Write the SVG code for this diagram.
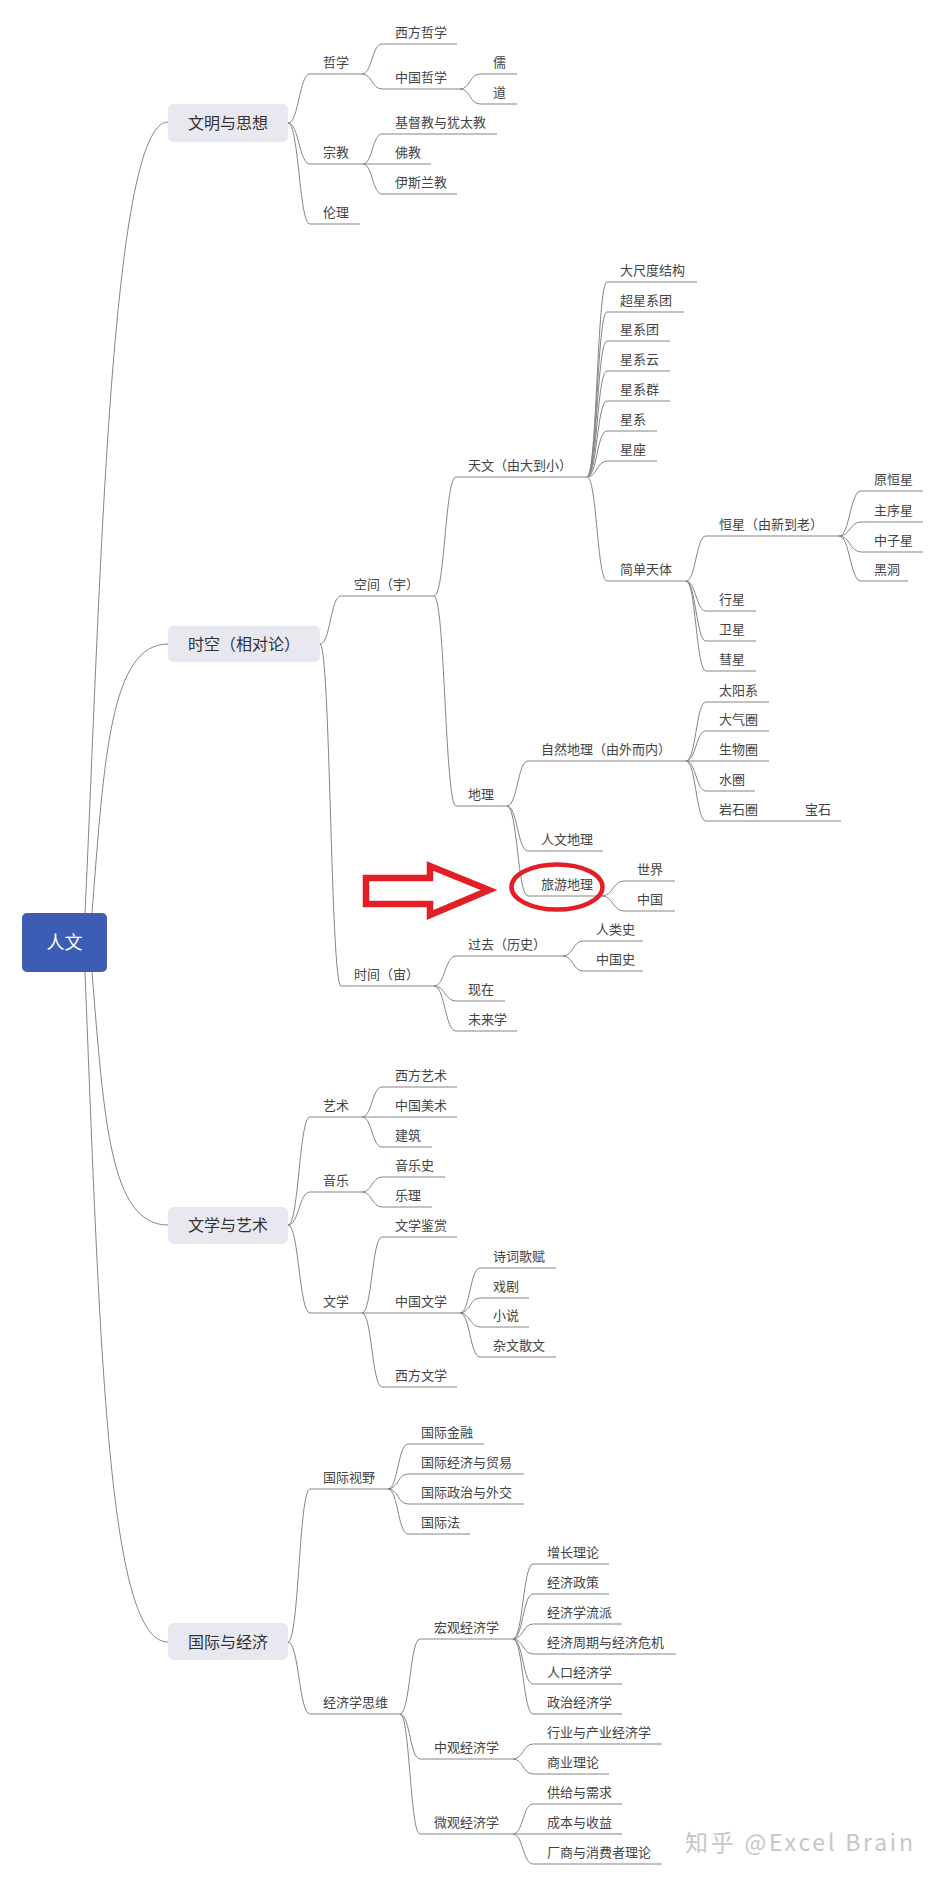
<svg xmlns="http://www.w3.org/2000/svg" width="939" height="1885" viewBox="0 0 939 1885">
<style>
.t{font-family:"Noto Sans CJK SC","Noto Sans",sans-serif;font-size:13px;fill:#444}
.u,.c path{stroke:#858585;stroke-width:1;fill:none}
.b1{fill:#e8e8f1}
.tb{font-family:"Noto Sans CJK SC","Noto Sans",sans-serif;font-size:16px;fill:#333;text-anchor:middle}
.tr{font-family:"Noto Sans CJK SC","Noto Sans",sans-serif;font-size:18px;fill:#fff;text-anchor:middle}
.red{stroke:#e21f26;fill:none}
</style>
<rect width="939" height="1885" fill="#fff"/>
<g class="c" id="connectors">
<path d="M85,913 C100,600 110,122 168,122"/>
<path d="M92,913 C104,760 110,644 168,644"/>
<path d="M92,972 C104,1120 110,1225 168,1225"/>
<path d="M85,972 C100,1350 108,1642 168,1642"/>
<path d="M288,123 C299,123 299,74 310,74"/>
<path d="M288,123 C299,123 299,164 310,164"/>
<path d="M288,123 C299,123 299,224 310,224"/>
<path d="M362,74 C372,74 372,44 382,44"/>
<path d="M362,74 C372,74 372,89 382,89"/>
<path d="M460,89 C470,89 470,74 480,74"/>
<path d="M460,89 C470,89 470,104 480,104"/>
<path d="M363,164 C372.5,164 372.5,134 382,134"/>
<path d="M363,164 L382,164"/>
<path d="M363,164 C372.5,164 372.5,194 382,194"/>
<path d="M320,644 C330.5,644 330.5,596 341,596"/>
<path d="M320,644 C330.5,644 330.5,986 341,986"/>
<path d="M434,596 C445,596 445,477 456,477"/>
<path d="M434,596 C445,596 445,806 456,806"/>
<path d="M587,477 C597,477 597,282 607,282"/>
<path d="M587,477 C597,477 597,312 607,312"/>
<path d="M587,477 C597,477 597,341 607,341"/>
<path d="M587,477 C597,477 597,371 607,371"/>
<path d="M587,477 C597,477 597,401 607,401"/>
<path d="M587,477 C597,477 597,431 607,431"/>
<path d="M587,477 C597,477 597,461 607,461"/>
<path d="M587,477 C597,477 597,581 607,581"/>
<path d="M686,581 C696,581 696,536 706,536"/>
<path d="M686,581 C696,581 696,611 706,611"/>
<path d="M686,581 C696,581 696,641 706,641"/>
<path d="M686,581 C696,581 696,671 706,671"/>
<path d="M839,536 C850,536 850,491 861,491"/>
<path d="M839,536 C850,536 850,522 861,522"/>
<path d="M839,536 C850,536 850,552 861,552"/>
<path d="M839,536 C850,536 850,581 861,581"/>
<path d="M507,806 C517.5,806 517.5,761 528,761"/>
<path d="M507,806 C517.5,806 517.5,851 528,851"/>
<path d="M507,806 C517.5,806 517.5,896 528,896"/>
<path d="M686,761 C696,761 696,702 706,702"/>
<path d="M686,761 C696,761 696,731 706,731"/>
<path d="M686,761 L706,761"/>
<path d="M686,761 C696,761 696,791 706,791"/>
<path d="M686,761 C696,761 696,821 706,821"/>
<path d="M602,896 C613,896 613,881 624,881"/>
<path d="M602,896 C613,896 613,911 624,911"/>
<path d="M434,986 C445,986 445,956 456,956"/>
<path d="M434,986 C445,986 445,1001 456,1001"/>
<path d="M434,986 C445,986 445,1031 456,1031"/>
<path d="M563,956 C573,956 573,941 583,941"/>
<path d="M563,956 C573,956 573,971 583,971"/>
<path d="M288,1225 C299,1225 299,1117 310,1117"/>
<path d="M288,1225 C299,1225 299,1192 310,1192"/>
<path d="M288,1225 C299,1225 299,1313 310,1313"/>
<path d="M362,1117 C372,1117 372,1087 382,1087"/>
<path d="M362,1117 L382,1117"/>
<path d="M362,1117 C372,1117 372,1147 382,1147"/>
<path d="M362,1192 C372,1192 372,1177 382,1177"/>
<path d="M362,1192 C372,1192 372,1207 382,1207"/>
<path d="M362,1313 C372,1313 372,1237 382,1237"/>
<path d="M362,1313 L382,1313"/>
<path d="M362,1313 C372,1313 372,1387 382,1387"/>
<path d="M460,1313 C470,1313 470,1268 480,1268"/>
<path d="M460,1313 C470,1313 470,1298 480,1298"/>
<path d="M460,1313 C470,1313 470,1327 480,1327"/>
<path d="M460,1313 C470,1313 470,1357 480,1357"/>
<path d="M288,1642 C299,1642 299,1489 310,1489"/>
<path d="M288,1642 C299,1642 299,1714 310,1714"/>
<path d="M388,1489 C398,1489 398,1444 408,1444"/>
<path d="M388,1489 C398,1489 398,1474 408,1474"/>
<path d="M388,1489 C398,1489 398,1504 408,1504"/>
<path d="M388,1489 C398,1489 398,1534 408,1534"/>
<path d="M400,1714 C410,1714 410,1639 420,1639"/>
<path d="M400,1714 C410,1714 410,1759 420,1759"/>
<path d="M400,1714 C410,1714 410,1834 420,1834"/>
<path d="M513,1639 C523,1639 523,1564 533,1564"/>
<path d="M513,1639 C523,1639 523,1594 533,1594"/>
<path d="M513,1639 C523,1639 523,1624 533,1624"/>
<path d="M513,1639 C523,1639 523,1654 533,1654"/>
<path d="M513,1639 C523,1639 523,1684 533,1684"/>
<path d="M513,1639 C523,1639 523,1714 533,1714"/>
<path d="M513,1759 C523,1759 523,1744 533,1744"/>
<path d="M513,1759 C523,1759 523,1774 533,1774"/>
<path d="M513,1834 C523,1834 523,1804 533,1804"/>
<path d="M513,1834 L533,1834"/>
<path d="M513,1834 C523,1834 523,1864 533,1864"/>
</g>

<g id="n-root"><rect x="22" y="913" width="85" height="59" rx="5" fill="#3d5cb5"/><text class="tr" x="64.5" y="949">人文</text></g>
<g id="n-wenming"><rect class="b1" x="168" y="104" width="120" height="38" rx="5"/><text class="tb" x="228" y="128.5">文明与思想</text></g>
<g id="n-shikong"><rect class="b1" x="168" y="626" width="152" height="36" rx="5"/><text class="tb" x="244" y="649.5">时空（相对论）</text></g>
<g id="n-wenxueyishu"><rect class="b1" x="168" y="1207" width="120" height="37" rx="5"/><text class="tb" x="228" y="1231">文学与艺术</text></g>
<g id="n-guojijingji"><rect class="b1" x="168" y="1623" width="120" height="37" rx="5"/><text class="tb" x="228" y="1647.5">国际与经济</text></g>

<g id="n-zhexue"><path class="u" d="M310,74H362"/><text class="t" x="323" y="67">哲学</text></g>
<g id="n-xifangzhexue"><path class="u" d="M382,44H457"/><text class="t" x="395" y="37">西方哲学</text></g>
<g id="n-zhongguozhexue"><path class="u" d="M382,89H460"/><text class="t" x="395" y="82">中国哲学</text></g>
<g id="n-ru"><path class="u" d="M480,74H517"/><text class="t" x="493" y="67">儒</text></g>
<g id="n-dao"><path class="u" d="M480,104H517"/><text class="t" x="493" y="97">道</text></g>
<g id="n-zongjiao"><path class="u" d="M310,164H363"/><text class="t" x="323" y="157">宗教</text></g>
<g id="n-jidujiao"><path class="u" d="M382,134H497"/><text class="t" x="395" y="127">基督教与犹太教</text></g>
<g id="n-fojiao"><path class="u" d="M382,164H431"/><text class="t" x="395" y="157">佛教</text></g>
<g id="n-yisilanjiao"><path class="u" d="M382,194H457"/><text class="t" x="395" y="187">伊斯兰教</text></g>
<g id="n-lunli"><path class="u" d="M310,224H360"/><text class="t" x="323" y="217">伦理</text></g>

<g id="n-kongjian"><path class="u" d="M341,596H434"/><text class="t" x="354" y="589">空间（宇）</text></g>
<g id="n-tianwen"><path class="u" d="M456,477H587"/><text class="t" x="468" y="470">天文（由大到小）</text></g>
<g id="n-dachidu"><path class="u" d="M607,282H697"/><text class="t" x="620" y="275">大尺度结构</text></g>
<g id="n-chaoxingxituan"><path class="u" d="M607,312H684"/><text class="t" x="620" y="305">超星系团</text></g>
<g id="n-xingxituan"><path class="u" d="M607,341H670"/><text class="t" x="620" y="334">星系团</text></g>
<g id="n-xingxiyun"><path class="u" d="M607,371H670"/><text class="t" x="620" y="364">星系云</text></g>
<g id="n-xingxiqun"><path class="u" d="M607,401H670"/><text class="t" x="620" y="394">星系群</text></g>
<g id="n-xingxi"><path class="u" d="M607,431H657"/><text class="t" x="620" y="424">星系</text></g>
<g id="n-xingzuo"><path class="u" d="M607,461H657"/><text class="t" x="620" y="454">星座</text></g>
<g id="n-jiandantianti"><path class="u" d="M607,581H686"/><text class="t" x="620" y="574">简单天体</text></g>
<g id="n-hengxing"><path class="u" d="M706,536H839"/><text class="t" x="719" y="529">恒星（由新到老）</text></g>
<g id="n-yuanhengxing"><path class="u" d="M861,491H923"/><text class="t" x="874" y="484">原恒星</text></g>
<g id="n-zhuxuxing"><path class="u" d="M861,522H923"/><text class="t" x="874" y="515">主序星</text></g>
<g id="n-zhongzixing"><path class="u" d="M861,552H923"/><text class="t" x="874" y="545">中子星</text></g>
<g id="n-heidong"><path class="u" d="M861,581H908"/><text class="t" x="874" y="574">黑洞</text></g>
<g id="n-xingxing"><path class="u" d="M706,611H756"/><text class="t" x="719" y="604">行星</text></g>
<g id="n-weixing"><path class="u" d="M706,641H756"/><text class="t" x="719" y="634">卫星</text></g>
<g id="n-huixing"><path class="u" d="M706,671H756"/><text class="t" x="719" y="664">彗星</text></g>
<g id="n-dili"><path class="u" d="M456,806H507"/><text class="t" x="468" y="799">地理</text></g>
<g id="n-ziran"><path class="u" d="M528,761H686"/><text class="t" x="541" y="754">自然地理（由外而内）</text></g>
<g id="n-taiyangxi"><path class="u" d="M706,702H769"/><text class="t" x="719" y="695">太阳系</text></g>
<g id="n-daqiquan"><path class="u" d="M706,731H769"/><text class="t" x="719" y="724">大气圈</text></g>
<g id="n-shengwuquan"><path class="u" d="M706,761H769"/><text class="t" x="719" y="754">生物圈</text></g>
<g id="n-shuiquan"><path class="u" d="M706,791H755"/><text class="t" x="719" y="784">水圈</text></g>
<g id="n-yanshiquan"><path class="u" d="M706,821H792"/><text class="t" x="719" y="814">岩石圈</text></g>
<g id="n-baoshi"><path class="u" d="M792,821H841"/><text class="t" x="805" y="814">宝石</text></g>
<g id="n-renwendili"><path class="u" d="M528,851H603"/><text class="t" x="541" y="844">人文地理</text></g>
<g id="n-lvyoudili"><path class="u" d="M528,896H602"/><text class="t" x="541" y="889">旅游地理</text></g>
<g id="n-shijie"><path class="u" d="M624,881H675"/><text class="t" x="637" y="874">世界</text></g>
<g id="n-zhongguo"><path class="u" d="M624,911H675"/><text class="t" x="637" y="904">中国</text></g>
<g id="n-shijian"><path class="u" d="M341,986H434"/><text class="t" x="354" y="979">时间（宙）</text></g>
<g id="n-guoqu"><path class="u" d="M456,956H563"/><text class="t" x="468" y="949">过去（历史）</text></g>
<g id="n-renleishi"><path class="u" d="M583,941H643"/><text class="t" x="596" y="934">人类史</text></g>
<g id="n-zhongguoshi"><path class="u" d="M583,971H643"/><text class="t" x="596" y="964">中国史</text></g>
<g id="n-xianzai"><path class="u" d="M456,1001H505"/><text class="t" x="468" y="994">现在</text></g>
<g id="n-weilaixue"><path class="u" d="M456,1031H517"/><text class="t" x="468" y="1024">未来学</text></g>

<g id="n-yishu"><path class="u" d="M310,1117H362"/><text class="t" x="323" y="1110">艺术</text></g>
<g id="n-xifangyishu"><path class="u" d="M382,1087H457"/><text class="t" x="395" y="1080">西方艺术</text></g>
<g id="n-zhongguomeishu"><path class="u" d="M382,1117H457"/><text class="t" x="395" y="1110">中国美术</text></g>
<g id="n-jianzhu"><path class="u" d="M382,1147H432"/><text class="t" x="395" y="1140">建筑</text></g>
<g id="n-yinyue"><path class="u" d="M310,1192H362"/><text class="t" x="323" y="1185">音乐</text></g>
<g id="n-yinyueshi"><path class="u" d="M382,1177H445"/><text class="t" x="395" y="1170">音乐史</text></g>
<g id="n-yueli"><path class="u" d="M382,1207H432"/><text class="t" x="395" y="1200">乐理</text></g>
<g id="n-wenxue"><path class="u" d="M310,1313H362"/><text class="t" x="323" y="1306">文学</text></g>
<g id="n-wenxuejianshang"><path class="u" d="M382,1237H457"/><text class="t" x="395" y="1230">文学鉴赏</text></g>
<g id="n-zhongguowenxue"><path class="u" d="M382,1313H460"/><text class="t" x="395" y="1306">中国文学</text></g>
<g id="n-shici"><path class="u" d="M480,1268H556"/><text class="t" x="493" y="1261">诗词歌赋</text></g>
<g id="n-xiju"><path class="u" d="M480,1298H529"/><text class="t" x="493" y="1291">戏剧</text></g>
<g id="n-xiaoshuo"><path class="u" d="M480,1327H529"/><text class="t" x="493" y="1320">小说</text></g>
<g id="n-zawen"><path class="u" d="M480,1357H556"/><text class="t" x="493" y="1350">杂文散文</text></g>
<g id="n-xifangwenxue"><path class="u" d="M382,1387H457"/><text class="t" x="395" y="1380">西方文学</text></g>

<g id="n-guojishiye"><path class="u" d="M310,1489H388"/><text class="t" x="323" y="1482">国际视野</text></g>
<g id="n-guojijinrong"><path class="u" d="M408,1444H484"/><text class="t" x="421" y="1437">国际金融</text></g>
<g id="n-guojimaoyi"><path class="u" d="M408,1474H524"/><text class="t" x="421" y="1467">国际经济与贸易</text></g>
<g id="n-guojizhengzhi"><path class="u" d="M408,1504H524"/><text class="t" x="421" y="1497">国际政治与外交</text></g>
<g id="n-guojifa"><path class="u" d="M408,1534H470"/><text class="t" x="421" y="1527">国际法</text></g>
<g id="n-jingjixuesiwei"><path class="u" d="M310,1714H400"/><text class="t" x="323" y="1707">经济学思维</text></g>
<g id="n-hongguan"><path class="u" d="M420,1639H513"/><text class="t" x="434" y="1632">宏观经济学</text></g>
<g id="n-zengzhang"><path class="u" d="M533,1564H609"/><text class="t" x="547" y="1557">增长理论</text></g>
<g id="n-jingjizhengce"><path class="u" d="M533,1594H609"/><text class="t" x="547" y="1587">经济政策</text></g>
<g id="n-liupai"><path class="u" d="M533,1624H622"/><text class="t" x="547" y="1617">经济学流派</text></g>
<g id="n-zhouqi"><path class="u" d="M533,1654H676"/><text class="t" x="547" y="1647">经济周期与经济危机</text></g>
<g id="n-renkou"><path class="u" d="M533,1684H622"/><text class="t" x="547" y="1677">人口经济学</text></g>
<g id="n-zhengzhijingji"><path class="u" d="M533,1714H622"/><text class="t" x="547" y="1707">政治经济学</text></g>
<g id="n-zhongguan"><path class="u" d="M420,1759H513"/><text class="t" x="434" y="1752">中观经济学</text></g>
<g id="n-hangye"><path class="u" d="M533,1744H662"/><text class="t" x="547" y="1737">行业与产业经济学</text></g>
<g id="n-shangye"><path class="u" d="M533,1774H609"/><text class="t" x="547" y="1767">商业理论</text></g>
<g id="n-weiguan"><path class="u" d="M420,1834H513"/><text class="t" x="434" y="1827">微观经济学</text></g>
<g id="n-gongji"><path class="u" d="M533,1804H622"/><text class="t" x="547" y="1797">供给与需求</text></g>
<g id="n-chengben"><path class="u" d="M533,1834H622"/><text class="t" x="547" y="1827">成本与收益</text></g>
<g id="n-changshang"><path class="u" d="M533,1864H662"/><text class="t" x="547" y="1857">厂商与消费者理论</text></g>

<g id="annotation">
<polygon class="red" stroke-width="6.5" stroke-linejoin="miter" points="366,878 430,878 430,866 489,890 430,915 430,904 366,904"/>
<ellipse class="red" stroke-width="4.5" cx="557" cy="887" rx="45.5" ry="22.5"/>
</g>
<text x="685" y="1851" font-family="'Noto Sans CJK SC','Noto Sans',sans-serif" font-size="23" fill="#c6c6c6" textLength="228" lengthAdjust="spacing">知乎 @Excel Brain</text>
</svg>
